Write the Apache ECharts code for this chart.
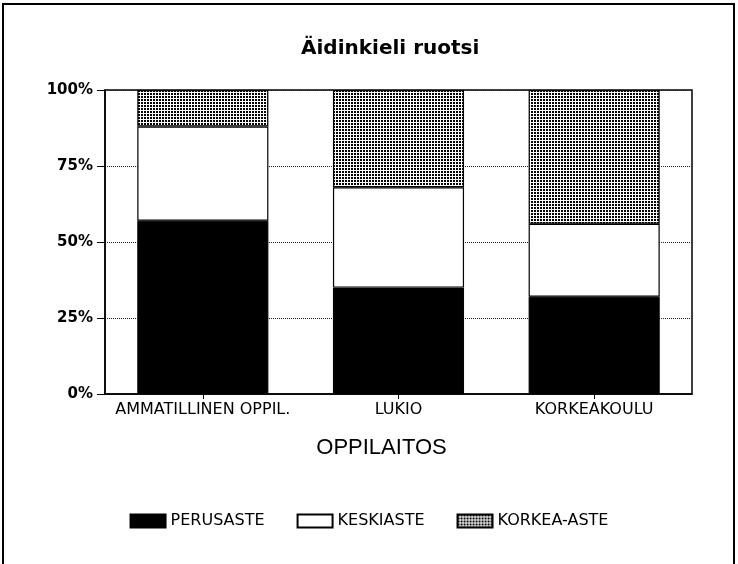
<!DOCTYPE html>
<html>
<head>
<meta charset="utf-8">
<script src="https://cdn.jsdelivr.net/npm/echarts@6/dist/echarts.min.js"></script>
<style>
html,body{margin:0;padding:0;background:#fff;}
#c{width:738px;height:564px;}
</style>
</head>
<body>
<div id="c"></div>
<script>
var categories = ['AMMATILLINEN OPPIL.', 'LUKIO', 'KORKEAKOULU'];
var perusaste = [57, 35, 32];
var keskiaste = [31, 33, 24];
var korkeaAste = [12, 32, 44];
var yTicks = [0, 25, 50, 75, 100];

function dotPattern() {
  var cv = document.createElement('canvas');
  cv.width = 3; cv.height = 3;
  var ctx = cv.getContext('2d');
  ctx.fillStyle = '#fff';
  ctx.fillRect(0, 0, 3, 3);
  ctx.fillStyle = '#000';
  ctx.fillRect(0, 0, 2, 2);
  return cv;
}

var WIDE = '"DejaVu Sans", Verdana, sans-serif';
var THIN = '"Liberation Sans", Arial, sans-serif';
var chart = echarts.init(document.getElementById('c'));
chart.setOption({
  animation: false,
  backgroundColor: '#fff',
  title: {
    text: 'Äidinkieli ruotsi',
    left: 296,
    top: 34,
    textStyle: {fontFamily: WIDE, fontWeight: 'bold', fontSize: 20, color: '#000'}
  },
  graphic: [{
    type: 'rect',
    shape: {x: 3, y: 4, width: 731, height: 580},
    style: {fill: 'none', stroke: '#000', lineWidth: 2},
    silent: true
  }],
  legend: {
    bottom: 30,
    left: 'center',
    icon: 'rect',
    itemWidth: 35,
    itemHeight: 13,
    itemGap: 32,
    textStyle: {fontFamily: WIDE, fontSize: 16, color: '#000'},
    data: ['PERUSASTE', 'KESKIASTE', 'KORKEA-ASTE']
  },
  grid: {
    left: 105, right: 46, top: 90, bottom: 170,
    show: true, borderColor: '#000', borderWidth: 1.5
  },
  xAxis: {
    type: 'category',
    data: categories,
    name: 'OPPILAITOS',
    nameLocation: 'middle',
    nameGap: 43,
    nameTextStyle: {fontFamily: THIN, fontSize: 22, color: '#000', fontWeight: 'lighter', padding: [0, 34, 0, 0]},
    axisLine: {lineStyle: {color: '#000', width: 1.5}},
    axisTick: {show: true, alignWithLabel: true, length: 5, lineStyle: {color: '#000'}},
    axisLabel: {fontFamily: WIDE, fontSize: 16, color: '#000', margin: 8, interval: 0}
  },
  yAxis: {
    type: 'value',
    min: 0, max: 100, interval: 25,
    axisLine: {show: true, lineStyle: {color: '#000', width: 1.5}},
    axisTick: {show: true, inside: false, length: 8, lineStyle: {color: '#000'}},
    axisLabel: {
      fontFamily: WIDE, fontSize: 15, fontWeight: 'bold', color: '#000', margin: 12,
      formatter: function (v) { return yTicks.indexOf(v) >= 0 ? v + '%' : ''; }
    },
    splitLine: {show: true, lineStyle: {color: '#222', type: 'dotted', width: 1}}
  },
  series: [
    {
      name: 'PERUSASTE', type: 'bar', stack: 's', data: perusaste, barWidth: '67%',
      itemStyle: {color: '#000', borderColor: '#000', borderWidth: 1}
    },
    {
      name: 'KESKIASTE', type: 'bar', stack: 's', data: keskiaste, barWidth: '67%',
      itemStyle: {color: '#fff', borderColor: '#000', borderWidth: 1.2}
    },
    {
      name: 'KORKEA-ASTE', type: 'bar', stack: 's', data: korkeaAste, barWidth: '67%',
      itemStyle: {color: {image: dotPattern(), repeat: 'repeat'}, borderColor: '#000', borderWidth: 1.2}
    }
  ]
});
</script>
</body>
</html>
